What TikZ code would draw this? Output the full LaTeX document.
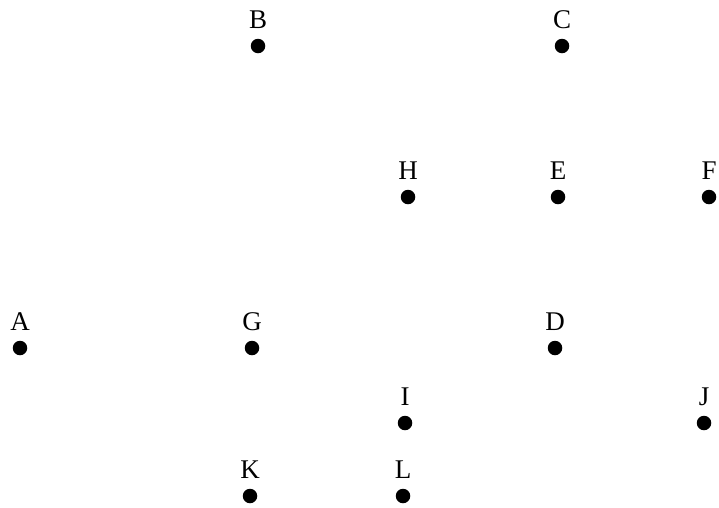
\documentclass[tikz,border=0pt]{standalone}
\usepackage{fontspec}
\setmainfont{Liberation Serif}
\usepackage{tikz}

\begin{document}
\begin{tikzpicture}[
    x=1pt, y=-1pt,
    font=\fontsize{27}{32}\selectfont,
    vertex/.style={circle, fill=black, inner sep=0pt, minimum size=14.5pt,
        label={[inner sep=0pt, label distance=10pt]above:#1}}
]
\useasboundingbox (0,0) rectangle (719,507);
% Top row
\node[vertex=B] (B) at (258,46) {};
\node[vertex=C] (C) at (562,46) {};

% Second row
\node[vertex=H] (H) at (408,197) {};
\node[vertex=E] (E) at (558,197) {};
\node[vertex=F] (F) at (709,197) {};

% Middle row
\node[vertex=A] (A) at (20,348) {};
\node[vertex=G] (G) at (252,348) {};
\node[vertex=D] (D) at (555,348) {};

% Lower rows
\node[vertex=I] (I) at (405,423) {};
\node[vertex=J] (J) at (704,423) {};
\node[vertex=K] (K) at (250,496) {};
\node[vertex=L] (L) at (403,496) {};
\end{tikzpicture}
\end{document}
